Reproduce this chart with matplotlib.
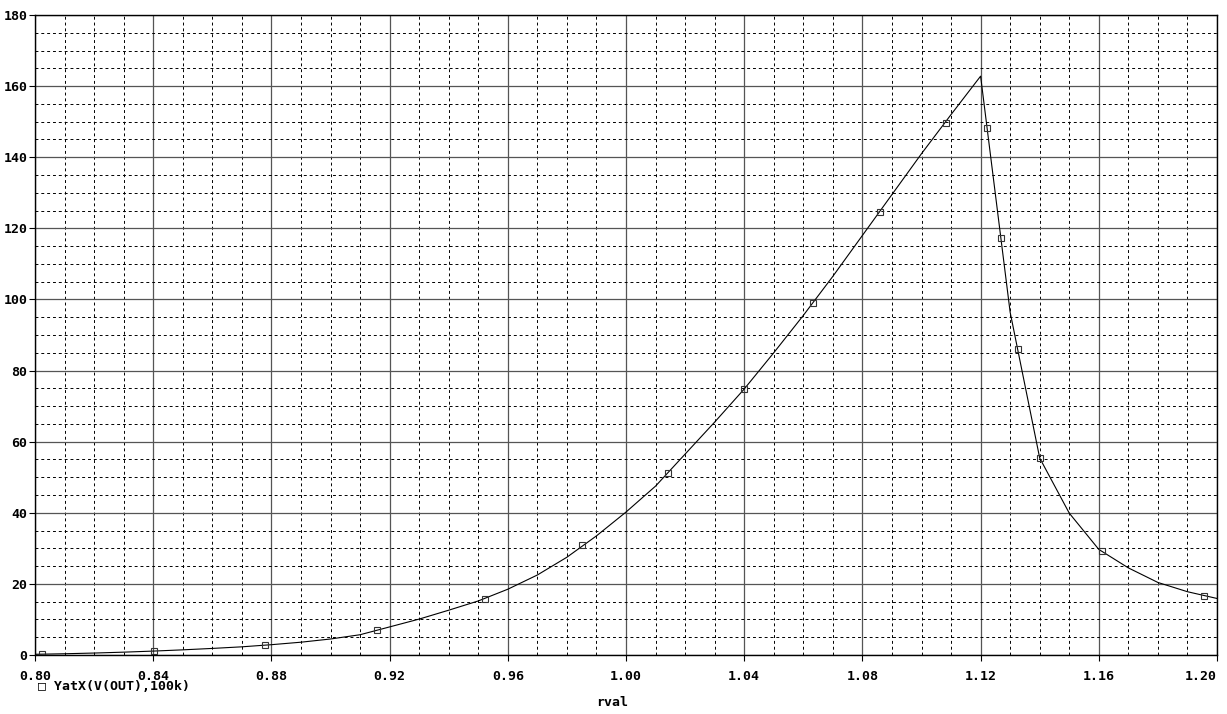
import numpy as np
import matplotlib
matplotlib.use("Agg")
import matplotlib.pyplot as plt
from matplotlib.ticker import MultipleLocator, FormatStrFormatter
from matplotlib.font_manager import FontProperties

# sweep of rval and the traced YatX(V(OUT),100k) values
rval = [0.80, 0.81, 0.82, 0.83, 0.84, 0.85, 0.86, 0.87, 0.88, 0.89,
        0.90, 0.91, 0.92, 0.93, 0.94, 0.95, 0.96, 0.97, 0.98, 0.99,
        1.00, 1.01, 1.02, 1.03, 1.04, 1.05, 1.06, 1.07, 1.08, 1.09,
        1.10, 1.11, 1.12, 1.13, 1.14, 1.15, 1.16, 1.17, 1.18, 1.19, 1.20]
yatx = [0.2, 0.35, 0.55, 0.8, 1.1, 1.45, 1.85, 2.3, 2.9, 3.6,
        4.5, 5.7, 7.9, 10.1, 12.6, 15.2, 18.5, 22.5, 27.5, 33.5,
        40.2, 47.5, 56.5, 65.5, 74.8, 85.0, 95.5, 106.5, 118.0, 129.5,
        141.0, 152.0, 162.8, 96.4, 55.4, 39.9, 29.7, 24.5, 20.4, 17.8, 15.9]

# trace symbols as drawn along the curve
mark_x = [0.8024, 0.8403, 0.878, 0.9157, 0.9523, 0.985, 1.0142, 1.040,
          1.0633, 1.086, 1.1083, 1.1222, 1.1269, 1.1327, 1.140, 1.1611, 1.1956]
mark_y = [0.3, 1.1, 2.8, 7.0, 15.7, 30.9, 51.2, 74.8,
          99.0, 124.6, 149.6, 148.2, 117.3, 86.1, 55.4, 29.2, 16.6]

x_ticks = [0.80, 0.84, 0.88, 0.92, 0.96, 1.00, 1.04, 1.08, 1.12, 1.16, 1.20]
x_ticklabels = ["0.80", "0.84", "0.88", "0.92", "0.96", "1.00",
                "1.04", "1.08", "1.12", "1.16", "1.20"]

trace_name = "YatX(V(OUT),100k)"

font = {"family": "DejaVu Sans Mono", "weight": "bold", "size": 9.5}

fig = plt.figure(figsize=(12.27, 7.14), dpi=100)
ax = fig.add_axes([35 / 1227, 59 / 714, 1182 / 1227, 640 / 714])

ax.plot(rval, yatx, color="black", linewidth=0.8)
ax.plot(mark_x, mark_y, linestyle="none", marker="s", markersize=4.5,
        markerfacecolor="none", markeredgecolor="#333333", markeredgewidth=0.8)

ax.set_xlim(0.80, 1.20)
ax.set_ylim(0, 180)
ax.set_xticks(x_ticks)
ax.set_xticklabels(x_ticklabels)
ax.xaxis.set_minor_locator(MultipleLocator(0.01))
ax.yaxis.set_major_locator(MultipleLocator(20))
ax.yaxis.set_minor_locator(MultipleLocator(5))
ax.yaxis.set_major_formatter(FormatStrFormatter("%d"))

ax.grid(which="major", color="#555555", linestyle="-", linewidth=0.9)
ax.grid(which="minor", color="black", linestyle=(0, (3, 3)), linewidth=0.7)
ax.set_axisbelow(True)

ax.tick_params(which="major", direction="out", length=4.5, width=0.8)
ax.tick_params(axis="x", which="major", pad=6)
ax.tick_params(axis="y", which="major", pad=1)
ax.tick_params(which="minor", length=0)
for lab in ax.get_xticklabels() + ax.get_yticklabels():
    lab.set_fontproperties(FontProperties(**font))
for lab in ax.get_xticklabels():
    if lab.get_text() == "1.20":
        lab.set_horizontalalignment("right")
for s in ax.spines.values():
    s.set_linewidth(1.0)
    s.set_color("black")

fig.text(38 / 1227, 1 - 687 / 714, "\u25a1 " + trace_name, ha="left", va="center", **font)
fig.text(612 / 1227, 1 - 702 / 714, "rval", ha="center", va="center", **font)

fig.savefig("out.png", dpi=100)
